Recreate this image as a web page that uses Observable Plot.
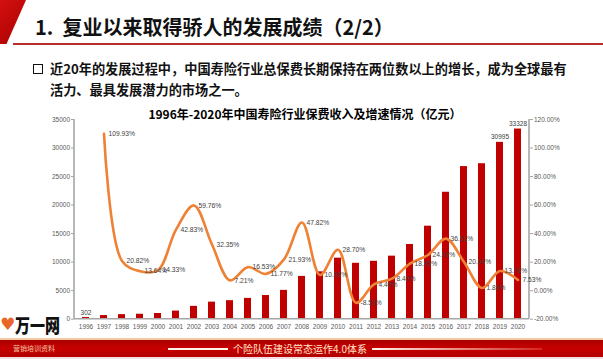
<!DOCTYPE html>
<html>
<head>
<meta charset="utf-8">
<script src="https://cdn.jsdelivr.net/npm/d3@7"></script>
<script src="https://cdn.jsdelivr.net/npm/@observablehq/plot@0.6"></script>
<style>
  html, body { margin: 0; padding: 0; background: #fff; }
  #page { position: relative; width: 603px; height: 359px; overflow: hidden; background: #fff;
          font-family: "Noto Sans CJK SC", "Noto Sans", sans-serif; }
  .abs { position: absolute; white-space: nowrap; }
  #corner { left: 0; top: 0; width: 26px; height: 44px; background: linear-gradient(135deg, #d41010, #a80000);
            clip-path: polygon(0 0, 100% 0, 25% 100%, 0 100%); }
  #head { left: 35px; top: 16px; font-size: 20px; font-weight: 700; line-height: 22px; color: #111; }
  #rule { left: 13px; top: 43px; width: 590px; height: 2px; background: #b5302a; }
  #box { left: 33px; top: 64px; width: 8px; height: 8px; border: 1.6px solid #111; }
  .bul { left: 50px; font-size: 13.2px; font-weight: 700; line-height: 20px; color: #111; }
  #ctitle { left: 305px; top: 106px; transform: translateX(-50%); font-size: 12px; font-weight: 700; line-height: 16px; color: #000; }
  #chart { position: absolute; left: 0; top: 100px; }
  #peach { left: 0; top: 338px; width: 603px; height: 2px; background: #f3c9a4; z-index: 3; }
  #band { left: 0; top: 340px; width: 603px; height: 17px; background: linear-gradient(#a90000, #c80000 50%, #b00000); z-index: 3; }
  #pink { left: 0; top: 357px; width: 603px; height: 2px; background: #f6dede; z-index: 3; }
  #ftext { left: 300px; top: 342px; transform: translateX(-50%); font-size: 10px; line-height: 13px; color: #ffe6cc; z-index: 4; }
  #fl1 { left: 168px; top: 348px; width: 60px; height: 2px; background: #fff4e8; z-index: 4; }
  #fl2 { left: 372px; top: 348px; width: 170px; height: 2px; background: linear-gradient(90deg, #fff4e8, rgba(255,200,180,0.2)); z-index: 4; }
  #fsmall { left: 13px; top: 344px; font-size: 7px; line-height: 9px; color: #f0c0a0; z-index: 4; }
  #logo { left: 15px; top: 313px; font-size: 15px; font-weight: 900; line-height: 18px; color: #111; z-index: 2;
          transform: scaleY(1.3); transform-origin: left top; }
  #heart { left: 0px; top: 314px; font-size: 17px; line-height: 20px; color: #e8662a; font-family: "DejaVu Sans"; z-index: 2; }
</style>
</head>
<body>
<div id="page">
  <div id="corner" class="abs"></div>
  <div id="head" class="abs">1.&nbsp;&nbsp;复业以来取得骄人的发展成绩（2/2）</div>
  <div id="rule" class="abs"></div>
  <div id="box" class="abs"></div>
  <div class="abs bul" style="top:59px">近20年的发展过程中，中国寿险行业总保费长期保持在两位数以上的增长，成为全球最有</div>
  <div class="abs bul" style="top:80px">活力、最具发展潜力的市场之一。</div>
  <div id="chart"></div>
  <div id="ctitle" class="abs">1996年-2020年中国寿险行业保费收入及增速情况（亿元）</div>
  <div id="heart" class="abs">♥</div>
  <div id="logo" class="abs">万一网</div>
  <div id="peach" class="abs"></div>
  <div id="band" class="abs"></div>
  <div id="pink" class="abs"></div>
  <div id="fsmall" class="abs">营销培训资料</div>
  <div id="fl1" class="abs"></div>
  <div id="ftext" class="abs">个险队伍建设常态运作4.0体系</div>
  <div id="fl2" class="abs"></div>
</div>
<script>
// ---- data ----
const years = ["1996","1997","1998","1999","2000","2001","2002","2003","2004","2005","2006","2007","2008",
               "2009","2010","2011","2012","2013","2014","2015","2016","2017","2018","2019","2020"];
// premium income (亿元)
const premium = [302, 640, 800, 870, 1000, 1420, 2250, 2990, 3250, 3650, 4150, 5050, 7500,
                 8300, 10700, 9800, 10150, 11050, 13100, 16300, 22250, 26750, 27250, 30995, 33328];
// growth rate (%) ; 1996 has none
const growth = [null, 109.93, 20.82, 13.64, 14.33, 42.83, 59.76, 32.35, 7.21, 16.53, 11.77, 21.93, 47.82,
                10.93, 28.70, -8.53, 4.40, 8.40, 18.90, 24.99, 36.51, 20.04, 1.85, 13.78, 7.53];
const barLabelYears = ["1996", "2019", "2020"];
const leftTicks = [0, 5000, 10000, 15000, 20000, 25000, 30000, 35000];
const rightTicks = [-20, 0, 20, 40, 60, 80, 100, 120];

// ---- build ----
const pct = d3.scaleLinear().domain([-20, 120]).range([0, 35000]);
const rows = years.map((year, i) => ({year, premium: premium[i], growth: growth[i]}));
const lineRows = rows.filter(d => d.growth != null);

const axisLines = (index, scales, values, dims) => {
  const g = d3.create("svg:g").attr("stroke", "#a6a6a6").attr("stroke-width", 1.6).attr("fill", "none");
  const xl = dims.marginLeft, xr = dims.width - dims.marginRight;
  const y0 = scales.y(0), yt = scales.y(35000);
  g.append("line").attr("x1", xl).attr("x2", xl).attr("y1", yt).attr("y2", y0);
  g.append("line").attr("x1", xr).attr("x2", xr).attr("y1", yt).attr("y2", y0);
  g.append("line").attr("x1", xl).attr("x2", xr).attr("y1", y0).attr("y2", y0);
  return g.node();
};

const chart = Plot.plot({
  width: 603,
  height: 259,
  marginLeft: 74,
  marginRight: 74,
  marginTop: 19,
  marginBottom: 40.3,
  style: {background: "transparent", fontFamily: "'Liberation Sans', Arial, sans-serif", fontSize: "6.5px", color: "#595959"},
  x: {type: "band", domain: years, paddingInner: 0.6, paddingOuter: 0.3},
  y: {domain: [0, 35000]},
  marks: [
    Plot.barY(rows, {x: "year", y: "premium", fill: "#c00000"}),
    axisLines,
    Plot.text(rows.filter(d => barLabelYears.includes(d.year)), {x: "year", y: "premium", text: d => String(d.premium), dy: -5, fill: "#404040", fontSize: 6.5}),
    Plot.line(lineRows, {x: "year", y: d => pct(d.growth), stroke: "#ee8134", strokeWidth: 2.6, curve: "catmull-rom"}),
    Plot.text(lineRows, {x: "year", y: d => pct(d.growth), text: d => d.growth.toFixed(2) + "%", textAnchor: "start", dx: 4.5, fill: "#404040", fontSize: 6.7}),
    Plot.axisY({anchor: "left", ticks: leftTicks, tickSize: 3, tickPadding: 1.5, tickFormat: d => String(d), fontSize: 6.5, stroke: "#a6a6a6", label: null}),
    Plot.axisY({anchor: "right", ticks: rightTicks.map(v => pct(v)), tickSize: 3, tickPadding: 1.5, tickFormat: v => Math.round(pct.invert(v)).toFixed(2) + "%", fontSize: 6.5, stroke: "#a6a6a6", label: null}),
    Plot.axisX({anchor: "bottom", tickSize: 0, tickPadding: 5, fontSize: 6.5, label: null})
  ]
});
document.getElementById("chart").appendChild(chart);
</script>
</body>
</html>
